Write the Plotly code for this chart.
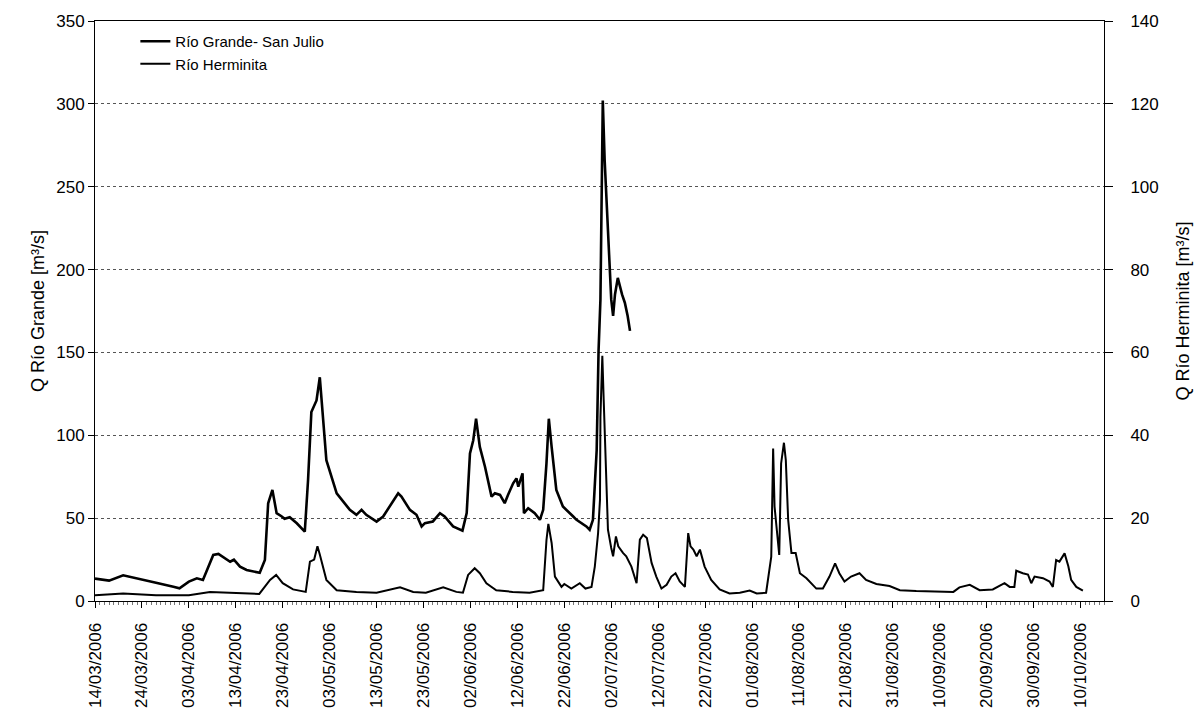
import pandas as pd
import plotly.graph_objects as go

# Río Grande - San Julio discharge [m3/s], left axis; day offsets from 14/03/2006
grande_day = [0, 3, 6, 9.6, 13, 16.7, 18, 20, 21.7, 23, 24.1, 25.2, 26.3, 28.8, 29.6,
              30.9, 32.3, 35.1, 36.2, 36.9, 37.8, 38.7, 39.8, 40.4, 41.5, 43, 44.7, 45.4,
              46.1, 47.2, 47.9, 48.6, 49.3, 51.5, 54.3, 55.7, 56.8, 57.8, 60, 61.4, 62.8,
              64.6, 65.3, 67.1, 68.5, 69.6, 70.3, 72, 73.5, 74.5, 76.3, 78.3, 79.2, 79.9,
              80.6, 81.2, 82, 83.1, 84.5, 85.2, 86.3, 87.3, 88, 89.1, 89.8, 90.2, 91.1,
              91.4, 92.3, 93.7, 94.8, 95.5, 96.2, 96.7, 97.3, 98.3, 99.7, 100.5, 101.9,
              102.6, 104.7, 105.4, 106.1, 106.9, 107.3, 107.7, 108.2, 108.6, 109.3, 109.7,
              110.0, 110.4, 110.8, 111.4, 111.8, 112.3, 112.9, 113.5, 114.0]
grande_q = [13.5, 12.3, 15.5, 13, 11, 8.6, 7.7, 11.7, 13.7, 12.7, 20.7, 27.8, 28.4, 23.7, 24.9,
            20.7, 18.7, 17, 24.7, 59, 67, 53, 51, 49.6, 50.5, 46.9, 41.8, 73,
            114, 121, 135, 109, 85, 65, 55, 52, 55, 52, 47.9, 51, 57,
            65, 63, 55, 52, 45, 47, 48, 53, 51, 45, 42.5, 53, 89,
            97, 110, 93, 81, 63, 65, 64, 59, 64, 71, 74, 69, 77,
            53, 56, 53, 49, 55, 83, 110, 93, 67, 57, 55, 51,
            49, 45, 43, 49, 91, 151, 182, 302, 266, 226, 196,
            182, 172, 185, 195, 190, 185, 180, 172, 163]

# Río Herminita discharge [m3/s], right axis; day offsets from 14/03/2006
herminita_day = [0, 6, 13, 20, 24.5, 28, 35, 37.3, 38.6, 40, 42.2, 44.9, 45.8, 46.7, 47.4,
                 47.9, 49.3, 51.5, 55.7, 60, 62.8, 65, 67.8, 70.5, 74.2, 77, 78.4, 79.5,
                 80.9, 82, 83.4, 85.5, 89, 92.6, 95.5, 96.2, 96.6, 97.3, 98, 99.4, 100,
                 101.5, 103.3, 104.5, 105.8, 106.5, 107.2, 107.6, 107.7, 107.9, 108.1, 108.4,
                 108.8, 109.3, 110, 110.4, 111, 111.5, 112.5, 113.2, 114.3, 115.4, 116.1,
                 116.8, 117.6, 118.6, 119.6, 120.7, 121.8, 122.8, 123.7, 124.6, 125.7, 126.4,
                 126.9, 127.5, 128.2, 128.9, 129.9, 131.3, 133.1, 135.2, 137.4, 139.5, 141,
                 143, 144.1, 144.5, 144.8, 145.2, 145.8, 146.2, 146.8, 147.2, 147.7, 148.4,
                 149.3, 150.2, 151.6, 153.7, 155.1, 156.5, 157.7, 158.6, 159.7, 161.1, 162.9,
                 164.3, 166.5, 169.3, 171.5, 175, 180, 182.9, 184.2, 186.4, 188.5, 191.3,
                 193.8, 194.9, 195.9, 196.3, 197.7, 198.8, 199.5, 200.2, 202, 203.4, 204.1,
                 204.8, 205.5, 206.6, 207.4, 208, 209.1, 210.5]
herminita_q = [1.4, 1.8, 1.4, 1.4, 2.2, 2.0, 1.7, 5.1, 6.3, 4.3, 2.8, 2.2, 9.5, 10.0, 13.2,
               11.2, 5.1, 2.6, 2.2, 2.0, 2.8, 3.3, 2.2, 2.0, 3.3, 2.2, 2.0, 6.3,
               7.9, 6.7, 4.3, 2.6, 2.2, 2.0, 2.6, 14.7, 18.6, 14.0, 5.9, 3.4, 4.1,
               3.0, 4.3, 3.0, 3.4, 8.3, 16.4, 24.4, 44.4, 56.4, 59.2, 48.4,
               36.4, 17.2, 12.8, 10.8, 15.6, 13.2, 11.6, 10.8, 8.3, 4.3, 14.8,
               16.0, 15.2, 9.2, 5.9, 3.0, 3.9, 5.9, 6.7, 4.7, 3.4, 16.4,
               13.2, 12.4, 10.8, 12.4, 8.3, 5.1, 2.8, 1.8, 2.0, 2.5, 1.8,
               2.0, 10.7, 36.8, 22.8, 18.0, 11.1, 33.2, 38.2, 34.0, 19.6, 11.6,
               11.6, 6.7, 5.5, 3.0, 3.0, 5.9, 9.1, 6.7, 4.7, 5.9, 6.7,
               5.1, 4.1, 3.6, 2.6, 2.4, 2.2, 2.2, 3.3, 3.9, 2.6, 2.8,
               4.3, 3.4, 3.4, 7.3, 6.7, 6.4, 4.3, 5.9, 5.5, 4.7, 3.4,
               9.9, 9.5, 11.5, 8.4, 5.1, 3.4, 2.5]

start = pd.Timestamp("2006-03-14")
tick_dates = pd.date_range("2006-03-14", "2006-10-10", freq="10D")
tick_labels = [d.strftime("%d/%m/%Y") for d in tick_dates]

grande_x = start + pd.to_timedelta(grande_day, unit="D")
herminita_x = start + pd.to_timedelta(herminita_day, unit="D")

FONT = "Liberation Sans, Arial, sans-serif"

fig = go.Figure()
fig.add_trace(go.Scatter(x=grande_x, y=grande_q, mode="lines",
                         name="Río Grande- San Julio",
                         line=dict(color="black", width=2.6)))
fig.add_trace(go.Scatter(x=herminita_x, y=herminita_q, mode="lines",
                         name="Río Herminita", yaxis="y2",
                         line=dict(color="black", width=2.0)))

fig.update_layout(
    width=1200, height=716,
    margin=dict(l=95, r=96, t=21, b=115),
    paper_bgcolor="white", plot_bgcolor="white",
    font=dict(family=FONT, size=17, color="black"),
    showlegend=True,
    legend=dict(x=0.04, y=0.993, xanchor="left", yanchor="top",
                bgcolor="rgba(0,0,0,0)", font=dict(size=15), tracegroupgap=0),
    xaxis=dict(
        type="date", automargin=False,
        range=[start, pd.Timestamp("2006-10-15")],
        tickmode="array", tickvals=tick_dates, ticktext=tick_labels,
        tickangle=-90, ticks="outside", ticklen=6, tickcolor="black",
        ticklabelstandoff=8, tickfont=dict(size=17),
        showline=True, linecolor="black", linewidth=1, mirror=True,
        showgrid=False, zeroline=False,
        minor=dict(ticks="outside", ticklen=3, tickcolor="#777",
                   dtick=86400000, showgrid=False),
    ),
    yaxis=dict(
        range=[0, 350], dtick=50, tick0=0, automargin=False,
        title=dict(text="Q Río Grande [m³/s]", standoff=6, font=dict(size=18)),
        ticks="outside", ticklen=6, tickcolor="black", tickfont=dict(size=17),
        showline=True, linecolor="black", linewidth=1,
        showgrid=True, gridcolor="#555", griddash="dot", gridwidth=1,
        zeroline=False,
    ),
    yaxis2=dict(
        range=[0, 140], dtick=20, tick0=0, overlaying="y", side="right",
        automargin=False,
        title=dict(text="Q Río Herminita [m³/s]", standoff=18, font=dict(size=18)),
        ticks="outside", ticklen=8, tickcolor="black", tickfont=dict(size=17),
        ticklabelstandoff=14,
        showline=True, linecolor="black", linewidth=1,
        showgrid=False, zeroline=False,
    ),
)

fig.write_html("out.html")
